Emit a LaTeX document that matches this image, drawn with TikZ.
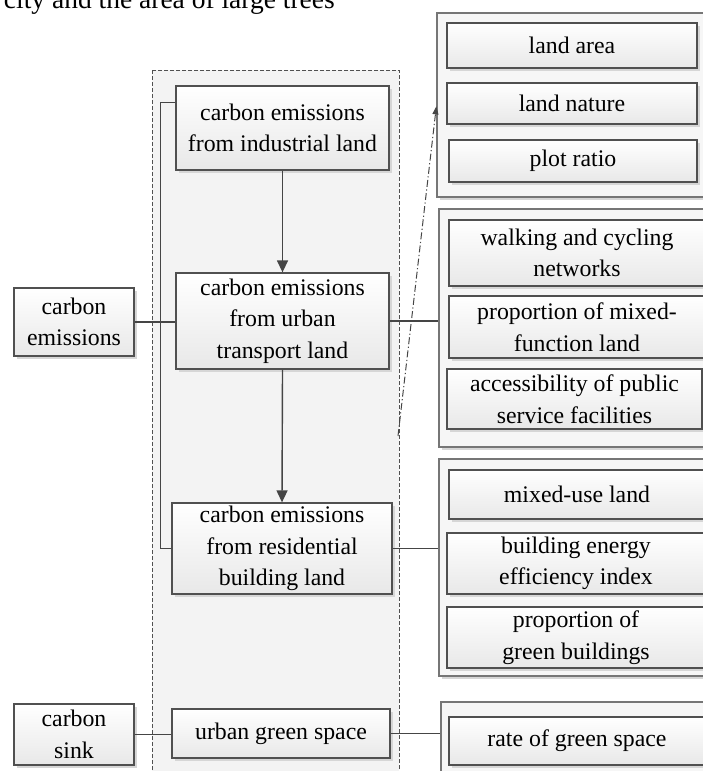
\documentclass[tikz,border=0pt]{standalone}
\usepackage{fontspec}
\setmainfont{Liberation Serif}
\usetikzlibrary{arrows.meta,shadows,calc}
\definecolor{lncol}{HTML}{454545}
\definecolor{bdcol}{HTML}{505050}
\definecolor{grpbd}{HTML}{767676}
\definecolor{grpfill}{HTML}{F6F6F6}
\definecolor{framefill}{HTML}{F3F3F3}
\definecolor{shcol}{HTML}{D6D6D6}
\tikzset{
  txt/.style={font=\fontsize{23.8}{31.5}\selectfont, align=center},
  bx/.style={txt, draw=bdcol, line width=1.3pt, inner sep=0pt,
    top color=white, bottom color=black!9,
    drop shadow={shadow xshift=3pt, shadow yshift=-3pt, fill=shcol, opacity=1}},
  grp/.style={draw=grpbd, line width=1.3pt, fill=grpfill, inner sep=0pt,
    drop shadow={shadow xshift=3pt, shadow yshift=-3pt, fill=shcol, opacity=1}},
  conn/.style={draw=lncol, line width=1.4pt},
  arr/.style={conn, -{Triangle[length=12pt,width=11pt]}},
  dashdotline/.style={draw=lncol, line width=1pt,
    dash pattern=on 7pt off 2.5pt on 1.2pt off 2.5pt,
    -{Triangle[length=8pt,width=6pt]}},
}
\begin{document}
\begin{tikzpicture}[x=1pt,y=-1pt]
\useasboundingbox (0,0) rectangle (703,771);

% caption fragment at the top (cut by the upper edge, as in the source)
\node[font=\fontsize{27.5}{30}\selectfont, anchor=base east, inner sep=0pt] (cap) at (335,9) {city and the area of large trees};

% dashed frame
\draw[draw=bdcol, line width=1pt, dash pattern=on 4pt off 2pt, fill=framefill] (152,70) rectangle (399,800);

% group boxes
\node[grp, minimum width=290pt, minimum height=184pt] (g1) at (582,105) {};
\node[grp, minimum width=290pt, minimum height=238pt] (g2) at (584,328) {};
\node[grp, minimum width=290pt, minimum height=217pt] (g3) at (584,567.5) {};
\node[grp, minimum width=290pt, minimum height=100pt] (g4) at (586,752) {};

% left column
\node[bx, minimum width=120pt, minimum height=68pt] (cem) at (74,322) {carbon\\emissions};
\node[bx, minimum width=120pt, minimum height=61pt] (csk) at (74,734.5) {carbon\\sink};

% middle column
\node[bx, minimum width=213pt, minimum height=84pt] (ind) at (282.5,128) {carbon emissions\\from industrial land};
\node[bx, minimum width=213pt, minimum height=96pt] (trn) at (282.5,321) {carbon emissions\\from urban\\transport land};
\node[bx, minimum width=220pt, minimum height=91pt] (res) at (282,548.5) {carbon emissions\\from residential\\building land};
\node[bx, minimum width=218pt, minimum height=49pt] (gsp) at (281,733.5) {urban green space};

% right column
\node[bx, minimum width=250pt, minimum height=45pt] (la) at (572,45.5) {land area};
\node[bx, minimum width=250pt, minimum height=41pt] (lnat) at (572,103.5) {land nature};
\node[bx, minimum width=248pt, minimum height=42pt] (pr) at (573,161) {plot ratio};

\node[bx, minimum width=256pt, minimum height=66pt] (wc) at (577,253) {walking and cycling\\networks};
\node[bx, minimum width=256pt, minimum height=62pt] (pm) at (577,327) {proportion of mixed-\\function land};
\node[bx, minimum width=255pt, minimum height=60pt] (ac) at (574.5,399) {accessibility of public\\service facilities};

\node[bx, minimum width=256pt, minimum height=49pt] (mu) at (577,494.5) {mixed-use land};
\node[bx, minimum width=258pt, minimum height=61pt] (be) at (576,563.5) {building energy\\efficiency index};
\node[bx, minimum width=258pt, minimum height=61pt] (pg) at (576,637.5) {proportion of\\green buildings};

\node[bx, minimum width=256pt, minimum height=48pt] (rg) at (577,741) {rate of green space};

% connectors
\draw[arr] (ind.south) -- (trn.north);
\draw[arr] (trn.south) -- (res.north);
\draw[conn] (cem.east) -- (cem.east -| trn.west);
\draw[conn] ([yshift=-17pt]ind.north west) -- ++(-15,0) |- (res.west);
\draw[conn] (trn.east) -- (trn.east -| g2.west);
\draw[conn] (res.east) -- (res.east -| g3.west);
\draw[conn] (csk.east) -- (csk.east -| gsp.west);
\draw[conn] (gsp.east) -- (gsp.east -| g4.west);
\coordinate (ddstart) at (398,436);
\draw[dashdotline] (ddstart) -- ([yshift=-94pt]g1.north west);
\end{tikzpicture}
\end{document}
